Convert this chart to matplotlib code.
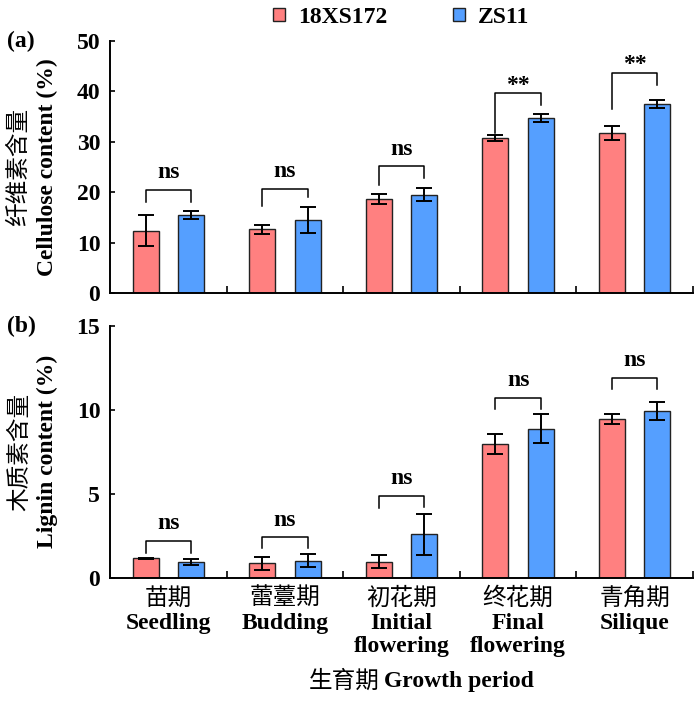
import numpy as np
import matplotlib
matplotlib.use('Agg')
import matplotlib.pyplot as plt
from matplotlib.patches import Patch

plt.rcParams['font.family'] = ['Liberation Serif', 'Noto Sans CJK SC']
plt.rcParams['font.weight'] = 'bold'
plt.rcParams['font.size'] = 17

# growth stages
stages_cn = ['苗期', '蕾薹期', '初花期', '终花期', '青角期']
stages_en = ['Seedling', 'Budding', 'Initial\nflowering', 'Final\nflowering', 'Silique']
cultivars = ['18XS172', 'ZS11']

# (a) cellulose content (%)
cel_18 = [12.4, 12.6, 18.6, 30.8, 31.8]
cel_18_err = [3.0, 0.8, 1.0, 0.6, 1.4]
cel_zs = [15.5, 14.5, 19.5, 34.7, 37.5]
cel_zs_err = [0.8, 2.5, 1.3, 0.8, 0.7]
cel_sig = ['ns', 'ns', 'ns', '**', '**']
cel_bar_top = [20.4, 20.6, 25.1, 39.6, 43.6]
cel_leg_left = [18.1, 17.3, 21.4, 31.7, 36.6]
cel_leg_right = [18.1, 19.1, 22.8, 37.3, 41.3]

# (b) lignin content (%)
lig_18 = [1.15, 0.86, 0.95, 7.94, 9.43]
lig_18_err = [0.05, 0.38, 0.4, 0.6, 0.3]
lig_zs = [0.93, 1.01, 2.58, 8.87, 9.92]
lig_zs_err = [0.18, 0.38, 1.2, 0.85, 0.55]
lig_sig = ['ns', 'ns', 'ns', 'ns', 'ns']
lig_bar_top = [2.2, 2.4, 4.88, 10.71, 11.9]
lig_leg_left = [1.45, 1.75, 4.13, 10.02, 11.21]
lig_leg_right = [1.45, 1.75, 4.19, 10.02, 11.21]

red = '#FF8080'
blue = '#559FFF'
W, H = 700, 703

fig = plt.figure(figsize=(7, 7.03), dpi=100)
ax1 = fig.add_axes([110/W, 1-293/H, 583/W, 252/H])
ax2 = fig.add_axes([110/W, 1-577.7/H, 583/W, 252/H])

x = np.arange(len(stages_cn))
bw = 0.223
off = 0.195


def draw_panel(ax, v1, e1, v2, e2, sig, btop, bl, br, ymax, step):
    ax.bar(x - off, v1, bw, color=red, edgecolor='#222222', linewidth=1.0, zorder=2)
    ax.bar(x + off, v2, bw, color=blue, edgecolor='#222222', linewidth=1.0, zorder=2)
    ax.errorbar(x - off, v1, yerr=e1, fmt='none', ecolor='black', elinewidth=1.4,
                capsize=6, capthick=1.4, zorder=3)
    ax.errorbar(x + off, v2, yerr=e2, fmt='none', ecolor='black', elinewidth=1.4,
                capsize=6, capthick=1.4, zorder=3)
    for i in range(len(x)):
        ax.plot([x[i] - off, x[i] - off, x[i] + off, x[i] + off],
                [bl[i], btop[i], btop[i], br[i]], color='black', lw=1.1)
        dy = 12.5 if sig[i] == 'ns' else 6
        ax.annotate(sig[i], xy=(x[i], btop[i]), xytext=(0, dy), textcoords='offset points',
                    ha='center', va='center', fontsize=17, fontweight='bold')
    ax.set_xlim(-0.5, 4.5)
    ax.set_ylim(0, ymax)
    ax.set_yticks(np.arange(0, ymax + 0.1, step))
    ax.set_xticks(x)
    ax.set_xticklabels([])
    ax.set_xticks(np.arange(0.5, 5, 1), minor=True)
    ax.tick_params(axis='x', which='major', length=0)
    ax.tick_params(axis='x', which='minor', direction='in', length=5, width=1.2)
    ax.tick_params(axis='y', direction='in', length=3.5, width=1.2, pad=7, labelsize=17)
    for s in ['top', 'right']:
        ax.spines[s].set_visible(False)
    for s in ['left', 'bottom']:
        ax.spines[s].set_linewidth(1.4)


draw_panel(ax1, cel_18, cel_18_err, cel_zs, cel_zs_err, cel_sig,
           cel_bar_top, cel_leg_left, cel_leg_right, 50, 10)
draw_panel(ax2, lig_18, lig_18_err, lig_zs, lig_zs_err, lig_sig,
           lig_bar_top, lig_leg_left, lig_leg_right, 15, 5)

# x tick labels, chinese line then english lines
for i in range(len(x)):
    ax2.annotate(stages_cn[i], xy=(x[i], 0), xycoords=('data', 'axes fraction'),
                 xytext=(0, -21), textcoords='offset pixels', ha='center', va='center',
                 family='Noto Sans CJK SC', fontweight='normal', fontsize=17)
    ax2.annotate(stages_en[i], xy=(x[i], 0), xycoords=('data', 'axes fraction'),
                 xytext=(0, -35), textcoords='offset pixels', ha='center', va='top',
                 fontsize=17, fontweight='bold', linespacing=1.17)

# x axis title
fig.text(380/W, 1-681.7/H, '生育期', ha='right', va='center',
         family='Noto Sans CJK SC', fontweight='normal', fontsize=17)
fig.text(384/W, 1-681.7/H, 'Growth period', ha='left', va='center', fontsize=17,
         fontweight='bold')

# y labels
fig.text(19/W, 1-167/H, '纤维素含量', rotation=90, ha='center', va='center',
         family='Noto Sans CJK SC', fontweight='normal', fontsize=17)
fig.text(47.5/W, 1-167/H, 'Cellulose content (%)', rotation=90, ha='center',
         va='center', fontsize=17, fontweight='bold')
fig.text(20/W, 1-451.7/H, '木质素含量', rotation=90, ha='center', va='center',
         family='Noto Sans CJK SC', fontweight='normal', fontsize=17)
fig.text(47.5/W, 1-451.7/H, 'Lignin content (%)', rotation=90, ha='center',
         va='center', fontsize=17, fontweight='bold')

# panel letters
fig.text(7/W, 1-41/H, '(a)', ha='left', va='center', fontsize=17, fontweight='bold')
fig.text(7/W, 1-326/H, '(b)', ha='left', va='center', fontsize=17, fontweight='bold')

handles = [Patch(facecolor=red, edgecolor='#222222', linewidth=1.0),
           Patch(facecolor=blue, edgecolor='#222222', linewidth=1.0)]
fig.legend(handles, cultivars, loc='center', bbox_to_anchor=(401/W, 1-17.5/H), ncol=2,
           frameon=False, handlelength=0.5, handleheight=0.5, handletextpad=0.55,
           columnspacing=2.8, borderpad=0, fontsize=17)

fig.savefig('out.png', dpi=100)
